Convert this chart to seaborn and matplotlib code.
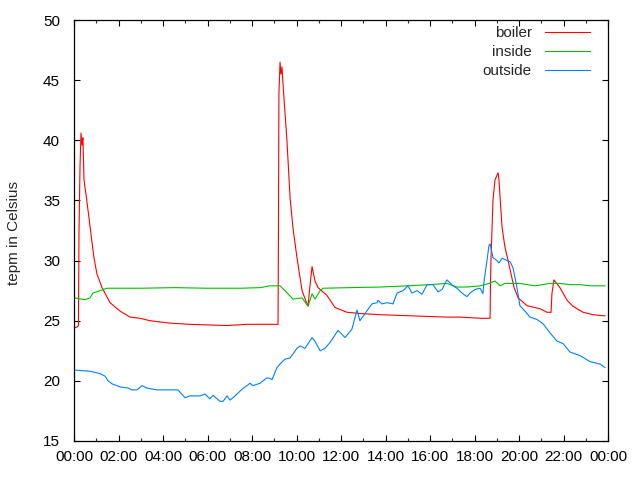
"""
Boiler / inside / outside temperature over one day, gnuplot look.
"""

import matplotlib
matplotlib.use("Agg")
import matplotlib.pyplot as plt
import seaborn as sns

# time of day in hours, values in Celsius
boiler_t = [0, 0.16, 0.20, 0.225, 0.27, 0.315, 0.36, 0.40, 0.45, 0.56, 0.67, 0.79, 0.90,
            1.03, 1.26, 1.62, 2.07, 2.52, 2.97, 3.42, 4.31, 5.21, 6.88, 7.78, 9.17,
            9.19, 9.21, 9.26, 9.30, 9.35, 9.39, 9.57, 9.71, 9.84, 10.02, 10.25, 10.47,
            10.52, 10.61, 10.70, 10.83, 10.97, 11.37, 11.73, 12.27, 12.85, 13.75, 15.24,
            16.76, 17.35, 18.34, 18.70, 18.72, 18.74, 18.83, 18.92, 19.06, 19.10, 19.15,
            19.24, 19.37, 19.51, 19.64, 19.78, 19.96, 20.36, 20.94, 21.26, 21.44, 21.48,
            21.57, 21.84, 22.16, 22.43, 22.88, 23.33, 23.87]
boiler_v = [24.4, 24.5, 24.6, 32.5, 37.8, 40.6, 39.6, 40.2, 36.7, 35.2, 33.6, 31.8, 30.2,
            28.9, 27.75, 26.5, 25.8, 25.3, 25.2, 25.0, 24.8, 24.7, 24.6, 24.7, 24.7,
            32.75, 43.9, 46.5, 45.5, 46.1, 44.75, 40.0, 35.25, 32.75, 30.25, 27.5, 26.4,
            26.25, 28.0, 29.5, 28.3, 27.75, 27.1, 26.1, 25.7, 25.6, 25.5, 25.4,
            25.3, 25.3, 25.2, 25.2, 28.2, 30.0, 35.0, 36.7, 37.3, 36.7, 35.25,
            32.75, 31.1, 30.0, 28.9, 27.75, 26.9, 26.25, 26.0, 25.7, 25.7, 27.25,
            28.4, 27.75, 26.7, 26.2, 25.7, 25.5, 25.4]

inside_t = [0, 0.49, 0.72, 0.85, 1.17, 1.48, 3.0, 4.5, 6.0, 7.5, 8.36, 8.81, 9.26,
            9.48, 9.84, 10.25, 10.52, 10.70, 10.83, 11.06, 11.19, 12.40, 13.75, 15.01,
            16.0, 16.76, 17.21, 17.66, 18.25, 18.65, 18.92, 19.15, 19.37, 20.04, 20.72,
            21.39, 21.84, 22.29, 22.74, 23.19, 23.87]
inside_v = [26.9, 26.75, 26.9, 27.3, 27.5, 27.7, 27.7, 27.75, 27.7, 27.7, 27.75, 27.9, 27.9,
            27.5, 26.8, 26.9, 26.2, 27.25, 26.8, 27.5, 27.7, 27.75, 27.8, 27.9,
            28.0, 28.1, 27.8, 27.8, 27.9, 28.1, 28.3, 27.9, 28.1, 28.1, 27.9,
            28.1, 28.1, 28.0, 28.0, 27.9, 27.9]

outside_t = [0, 0.72, 1.17, 1.39, 1.53, 1.71, 2.07, 2.43, 2.61, 2.83, 3.06, 3.28, 3.73,
             4.31, 4.67, 4.99, 5.21, 5.66, 5.89, 6.11, 6.25, 6.56, 6.70, 6.88, 7.01, 7.24,
             7.55, 7.91, 8.04, 8.36, 8.67, 8.81, 8.90, 9.12, 9.26, 9.48, 9.71, 10.02, 10.16,
             10.38, 10.70, 10.83, 11.06, 11.28, 11.51, 11.87, 12.18, 12.49, 12.72, 12.85,
             13.08, 13.39, 13.62, 13.66, 13.84, 14.07, 14.34, 14.52, 14.79, 15.01, 15.19,
             15.42, 15.64, 15.87, 16.13, 16.36, 16.54, 16.76, 17.03, 17.21, 17.44, 17.66,
             17.80, 18.02, 18.25, 18.38, 18.43, 18.56, 18.65, 18.70, 18.83, 19.01, 19.10,
             19.24, 19.46, 19.60, 19.73, 19.91, 20.04, 20.27, 20.49, 20.81, 21.08, 21.39,
             21.71, 21.98, 22.29, 22.74, 23.19, 23.64, 23.87]
outside_v = [20.9, 20.8, 20.6, 20.4, 20.0, 19.75, 19.5, 19.4, 19.25, 19.25, 19.6, 19.4, 19.25,
             19.25, 19.25, 18.6, 18.75, 18.75, 18.9, 18.5, 18.8, 18.3, 18.3, 18.75, 18.4, 18.75,
             19.3, 19.8, 19.6, 19.8, 20.25, 20.2, 20.1, 21.1, 21.4, 21.8, 21.9, 22.7, 22.9,
             22.7, 23.6, 23.3, 22.5, 22.7, 23.2, 24.2, 23.6, 24.3, 25.9, 25.0,
             25.6, 26.4, 26.5, 26.7, 26.4, 26.5, 26.4, 27.3, 27.5, 27.9, 27.3,
             27.5, 27.2, 28.0, 28.0, 27.4, 27.6, 28.4, 27.9, 27.7, 27.3, 27.0,
             27.3, 27.6, 27.7, 27.25, 28.3, 30.0, 31.25, 31.4, 30.25, 30.0, 29.8,
             30.2, 30.0, 29.9, 29.4, 27.75, 26.25, 25.8, 25.3, 25.1, 24.75, 24.0,
             23.3, 23.1, 22.4, 22.1, 21.6, 21.4, 21.1]

x_ticks = list(range(0, 25, 2))
x_tick_labels = ["00:00", "02:00", "04:00", "06:00", "08:00", "10:00", "12:00",
                 "14:00", "16:00", "18:00", "20:00", "22:00", "00:00"]

sns.set_style("ticks")
plt.rcParams['font.family'] = ['Liberation Sans', 'DejaVu Sans']
plt.rcParams['xtick.direction'] = 'in'
plt.rcParams['ytick.direction'] = 'in'
plt.rcParams['xtick.top'] = True
plt.rcParams['ytick.right'] = True

fig = plt.figure(figsize=(6.4, 4.8), dpi=100)
ax = fig.add_axes([74 / 640, 39 / 480, 534 / 640, 421 / 480])

lw = 0.8
sns.lineplot(x=boiler_t, y=boiler_v, color='#ff0000', linewidth=lw, label='boiler', ax=ax)
sns.lineplot(x=inside_t, y=inside_v, color='#00c000', linewidth=lw, label='inside', ax=ax)
sns.lineplot(x=outside_t, y=outside_v, color='#0080ff', linewidth=lw, label='outside', ax=ax)

ax.set_xlim(0, 24)
ax.set_ylim(15, 50)
ax.set_xticks(x_ticks)
ax.set_xticklabels(x_tick_labels)
ax.set_xticks(range(1, 24, 2), minor=True)
ax.set_yticks(range(15, 51, 5))

ax.tick_params(axis='both', which='major', length=4.3, width=0.8, labelsize=11, colors='black')
ax.tick_params(axis='x', which='major', pad=6.5)
ax.tick_params(axis='y', which='major', pad=10)
ax.tick_params(axis='x', which='minor', length=2.2, width=0.8)
for s in ax.spines.values():
    s.set_linewidth(0.9)
    s.set_color('black')

ax.set_xlabel('')
ax.set_ylabel('tepm in Celsius', fontsize=11)
ax.yaxis.set_label_coords(-0.1, 0.495)

ax.legend(loc='upper right', bbox_to_anchor=(0.966, 0.985), frameon=False,
          markerfirst=False, fontsize=11, handlelength=2.95, handletextpad=0.85,
          labelspacing=0.32, borderaxespad=0, borderpad=0)

fig.savefig('out.png', dpi=100)
